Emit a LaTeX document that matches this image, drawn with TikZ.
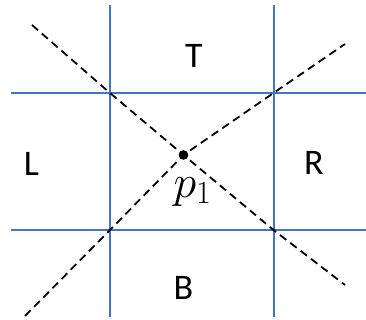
\RequirePackage{fix-cm}
\documentclass[tikz,border=0pt]{standalone}
\usepackage{fontspec}
\setmainfont{Carlito}
\usepackage{tikz}
\usetikzlibrary{calc}
\definecolor{gridblue}{RGB}{68,114,196}

\begin{document}
\begin{tikzpicture}[x=1pt, y=-1pt,
    gridline/.style={gridblue, line width=2pt},
    cutline/.style={black, line width=1.8pt, dash pattern=on 8pt off 5pt},
    region/.style={font=\fontsize{36}{40}\selectfont, inner sep=0pt},
    pointlabel/.style={font=\fontsize{46}{50}\selectfont, inner sep=0pt}]
  \useasboundingbox (0,0) rectangle (366,320);
  % ================================================================
  % grid lines
  % ================================================================
  \coordinate (v1top) at (110,5);   \coordinate (v1bot) at (110,317);
  \coordinate (v2top) at (273.5,5); \coordinate (v2bot) at (273.5,317);
  \coordinate (h1l) at (11,93);     \coordinate (h1r) at (366,93);
  \coordinate (h2l) at (11,230);    \coordinate (h2r) at (366,230);
  \draw[gridline] (v1top) -- (v1bot);
  \draw[gridline] (v2top) -- (v2bot);
  \draw[gridline] (h1l) -- (h1r);
  \draw[gridline] (h2l) -- (h2r);
  % crossings ------------------------------------------------------
  \coordinate (tl) at (110,93);   \coordinate (tr) at (273.5,93);
  \coordinate (bl) at (110,230);  \coordinate (br) at (273.5,230);
  % ================================================================
  % dashed lines through p1
  % ================================================================
  \coordinate (p1) at (183.5,155);
  \coordinate (endnw) at (32,25);   \coordinate (endse) at (345,285);
  \coordinate (endsw) at (25,316);  \coordinate (endne) at (345,44);
  \draw[cutline] (endnw) -- (tl) -- (p1) -- (br) -- (endse);
  \draw[cutline] (endsw) -- (bl) -- (p1) -- (tr) -- (endne);
  \fill[black] (p1) circle (4.8);
  % labels ---------------------------------------------------------
  \node[region] (T) at (194,56) {T};
  \node[region] (L) at (31.5,163.5) {L};
  \node[region] (R) at (314,162.5) {R};
  \node[region] (B) at (183.5,287.5) {B};
  \node[pointlabel, anchor=base] (plabel) at (192.5,197) {$p_1$};
\end{tikzpicture}
\end{document}
